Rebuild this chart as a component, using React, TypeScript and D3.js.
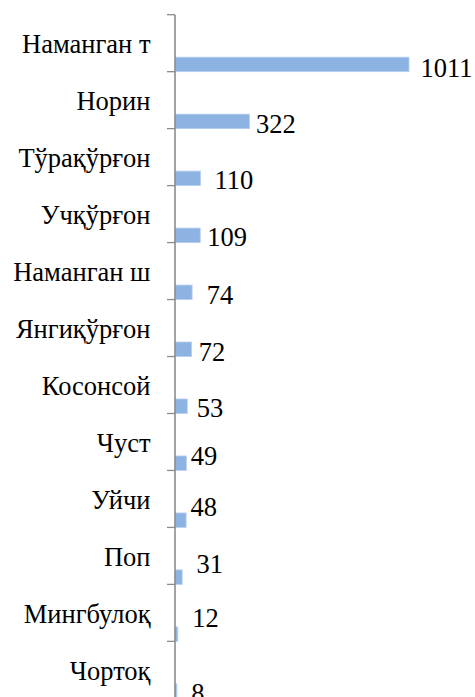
import React from "react";
import * as d3 from "d3";

// data
const districts = [
  "Наманган т",
  "Норин",
  "Тўрақўрғон",
  "Учқўрғон",
  "Наманган ш",
  "Янгиқўрғон",
  "Косонсой",
  "Чуст",
  "Уйчи",
  "Поп",
  "Мингбулоқ",
  "Чортоқ",
];
const counts = [1011, 322, 110, 109, 74, 72, 53, 49, 48, 31, 12, 8];

// label nudges as placed in the original chart [dx from bar end, dy from band bottom]
const labelNudge = [
  [11.5, 5], [6.5, 4], [14, 3], [7, 3], [14.5, 4], [7, 4],
  [9.5, 4], [4.5, -5], [4.5, -11], [14.3, -11], [14.4, -14], [14.4, 4],
];

const width = 475;
const height = 697;
const axisX = 175;
const top = 14.7;
const band = 56.97;
const barH = 14.5;
const axisColor = "#8c8c8c";
const fontStyle = { fontFamily: "Liberation Serif", fontSize: 26.5 };

const App = () => {
  const x = d3.scaleLinear().domain([0, 1011]).range([axisX, 409]);

  const y = d3
    .scaleBand()
    .domain(districts)
    .range([top, top + band * districts.length])
    .padding(0);

  // tick positions at category boundaries
  const yTicks = d3
    .scaleLinear()
    .domain([0, districts.length])
    .range([top, top + band * districts.length]);
  const tickVals = d3.range(districts.length + 1);

  const bottom = (d) => y(d) + y.bandwidth();

  return (
    <svg
      width={width}
      height={height}
      viewBox={`0 0 ${width} ${height}`}
      style={{ position: "absolute", left: 0, top: 0, background: "#fff" }}
    >
      {/* bars */}
      <g>
        {districts.map((d, i) => (
          <rect
            key={d}
            x={axisX}
            y={bottom(d) - barH}
            width={x(counts[i]) - axisX}
            height={barH}
            fill="#8db3e2"
            stroke="#b9cfee"
            strokeWidth={0.8}
          />
        ))}
      </g>

      {/* axis */}
      <g stroke={axisColor}>
        <line
          x1={axisX}
          x2={axisX}
          y1={yTicks(0)}
          y2={yTicks(districts.length)}
          strokeWidth={1.6}
        />
        {tickVals.map((t) => (
          <line
            key={t}
            x1={axisX - 8}
            x2={axisX}
            y1={yTicks(t)}
            y2={yTicks(t)}
            strokeWidth={1.3}
          />
        ))}
      </g>

      {/* category labels */}
      {districts.map((d) => (
        <text
          key={d}
          x={150.5}
          y={bottom(d) - 18.5}
          textAnchor="end"
          fill="#000"
          style={fontStyle}
        >
          {d}
        </text>
      ))}

      {/* value labels */}
      {districts.map((d, i) => (
        <text
          key={"v" + d}
          x={x(counts[i]) + labelNudge[i][0]}
          y={bottom(d) + labelNudge[i][1]}
          fill="#000"
          style={fontStyle}
        >
          {counts[i]}
        </text>
      ))}
    </svg>
  );
};

export default App;
